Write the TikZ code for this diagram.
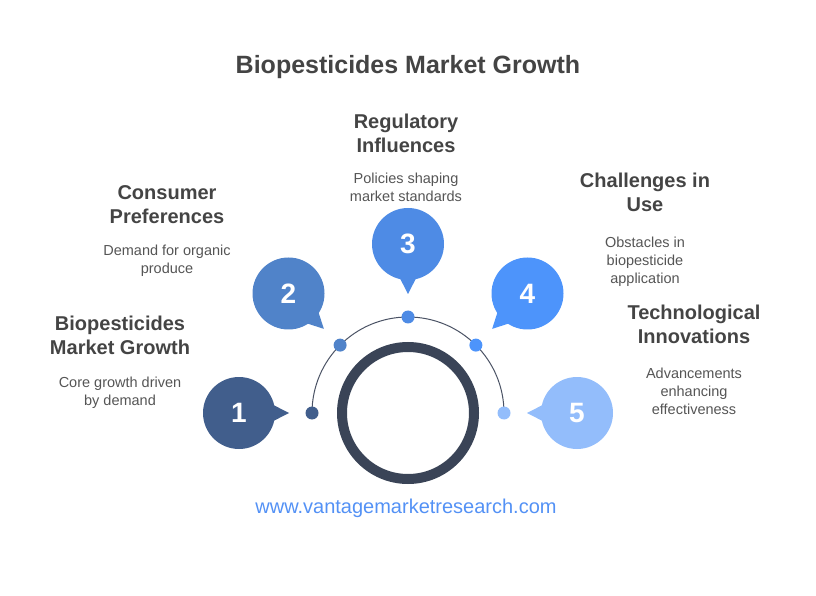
\documentclass[tikz,border=0pt]{standalone}
\usepackage{fontspec}
\setmainfont{Liberation Sans}
\usetikzlibrary{positioning,calc}

\definecolor{inkgray}{HTML}{444444}
\definecolor{textgray}{HTML}{555555}
\definecolor{ringgray}{HTML}{3A4457}
\definecolor{arcgray}{HTML}{4A5264}
\definecolor{urlblue}{HTML}{5391F5}
\definecolor{stepA}{HTML}{415E8C}
\definecolor{stepB}{HTML}{5083C9}
\definecolor{stepC}{HTML}{4E8BE5}
\definecolor{stepD}{HTML}{4D94FB}
\definecolor{stepE}{HTML}{93BDFB}

\begin{document}
\begin{tikzpicture}[x=1pt,y=1pt,
  heading/.style={font=\bfseries\fontsize{20}{24}\selectfont, text=inkgray, align=center, inner sep=0pt},
  blurb/.style={font=\fontsize{14.5}{18}\selectfont, text=textgray, align=center, inner sep=0pt},
  dot/.style={circle, inner sep=0pt, minimum size=13pt},
  bubble/.style={circle, inner sep=0pt, minimum size=72pt, text=white, font=\bfseries\fontsize{28}{32}\selectfont}]
  \useasboundingbox (0,0) rectangle (816,595);

  \node[font=\bfseries\fontsize{25}{30}\selectfont, text=inkgray] (title) at (408,528) {Biopesticides Market Growth};

  % centre ring and guide arc
  \node[circle, draw=ringgray, line width=10pt, minimum size=132pt, inner sep=0pt] (ring) at (408,182) {};
  \draw[arcgray, line width=1pt] ($(ring.center)+(180:96)$) arc[start angle=180, end angle=0, radius=96];

  % numbered bubbles with their dots
  \foreach \i/\ang/\col in {1/180/stepA, 2/135/stepB, 3/90/stepC, 4/45/stepD, 5/0/stepE} {
    \pgfmathtruncatemacro{\pa}{\ang+180}
    \pgfmathtruncatemacro{\pl}{\pa-15}
    \pgfmathtruncatemacro{\pr}{\pa+15}
    \node[dot, fill=\col] (dot\i) at ($(ring.center)+(\ang:96)$) {};
    \node[bubble, fill=\col] (bubble\i) at ($(ring.center)+(\ang:169)$) {\i};
    \fill[\col] ($(bubble\i.center)+(\pl:34)$) -- ($(bubble\i.center)+(\pa:50)$) -- ($(bubble\i.center)+(\pr:34)$) -- cycle;
  }

  \node[heading] (head1) at (120,260) {Biopesticides\\Market Growth};
  \node[blurb, below=22pt of head1] (blurb1) {Core growth driven\\by demand};

  \node[heading] (head2) at (167,390) {Consumer\\Preferences};
  \node[blurb, below=21pt of head2] (blurb2) {Demand for organic\\produce};

  \node[heading] (head3) at (406,462) {Regulatory\\Influences};
  \node[blurb, below=20pt of head3] (blurb3) {Policies shaping\\market standards};

  \node[heading] (head4) at (645,403) {Challenges in\\Use};
  \node[blurb, below=25pt of head4] (blurb4) {Obstacles in\\biopesticide\\application};

  \node[heading] (head5) at (694,271) {Technological\\Innovations};
  \node[blurb, below=24pt of head5] (blurb5) {Advancements\\enhancing\\effectiveness};

  \node[font=\fontsize{20}{24}\selectfont, text=urlblue] (url) at (406,87) {www.vantagemarketresearch.com};
\end{tikzpicture}
\end{document}
